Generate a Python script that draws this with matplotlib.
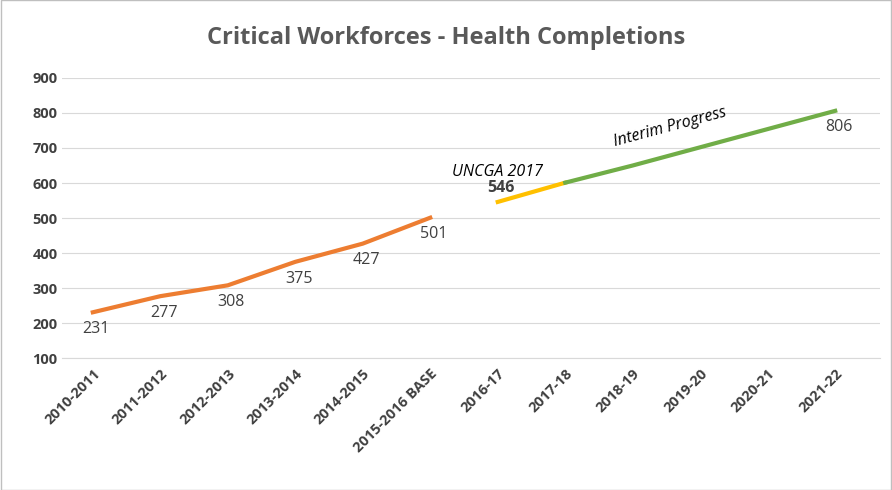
import matplotlib
matplotlib.use("Agg")
import matplotlib.pyplot as plt

categories = ["2010-2011","2011-2012","2012-2013","2013-2014","2014-2015","2015-2016 BASE",
              "2016-17","2017-18","2018-19","2019-20","2020-21","2021-22"]
actual = [231,277,308,375,427,501]
uncga = [546,601]
interim = [601,650,702,754,806]

plt.rcParams["font.family"] = "Open Sans"
fig = plt.figure(figsize=(8.92,4.90), dpi=100)
ax = fig.add_axes([0.07,0.269,0.917,0.572])
x = list(range(len(categories)))
ax.plot(x[0:6], actual, color="#ED7D31", lw=3)
ax.plot(x[6:8], uncga, color="#FFC000", lw=3)
ax.plot(x[7:12], interim, color="#70AD47", lw=3)
for i,v in zip(x[0:6], actual):
    ax.text(i+0.05, v-25, str(v), ha="center", va="top", fontsize=11.5, color="#404040")
ax.text(6.05, uncga[0]+18, str(uncga[0]), ha="center", va="bottom", fontsize=11.5, fontweight="bold", color="#404040")
ax.text(6.0, uncga[0]+62, "UNCGA 2017", ha="center", va="bottom", fontsize=11.5, style="italic", color="black")
ax.text(11.05, interim[-1]-22, str(interim[-1]), ha="center", va="top", fontsize=11.5, color="#404040")
ax.text(8.55, 695, "Interim Progress", ha="center", va="bottom", fontsize=11.5, style="italic", rotation=15, color="black")
ax.set_ylim(100,900)
ax.set_xlim(-0.45,11.67)
ax.set_yticks(range(100,1000,100))
ax.set_xticks(x)
ax.set_xticklabels(categories, rotation=45, ha="right", rotation_mode="anchor", fontsize=10.5, fontweight="bold", color="#404040")
ax.tick_params(axis="y", labelsize=10.5, colors="#404040", length=0)
ax.tick_params(axis="x", length=0, pad=6)
for l in ax.get_yticklabels():
    l.set_fontweight("bold")
ax.grid(axis="y", color="#D9D9D9", lw=0.8)
for s in ["top","right","left"]:
    ax.spines[s].set_visible(False)
ax.spines["bottom"].set_color("#D9D9D9")
ax.set_axisbelow(True)
fig.text(0.5, 0.922, "Critical Workforces - Health Completions", ha="center", va="center",
         fontsize=17, fontweight="bold", color="#595959")
fig.patches.append(plt.Rectangle((0.001,0.001),0.998,0.998, transform=fig.transFigure, fill=False, ec="#BFBFBF", lw=1))
fig.savefig("out.png", dpi=100)
